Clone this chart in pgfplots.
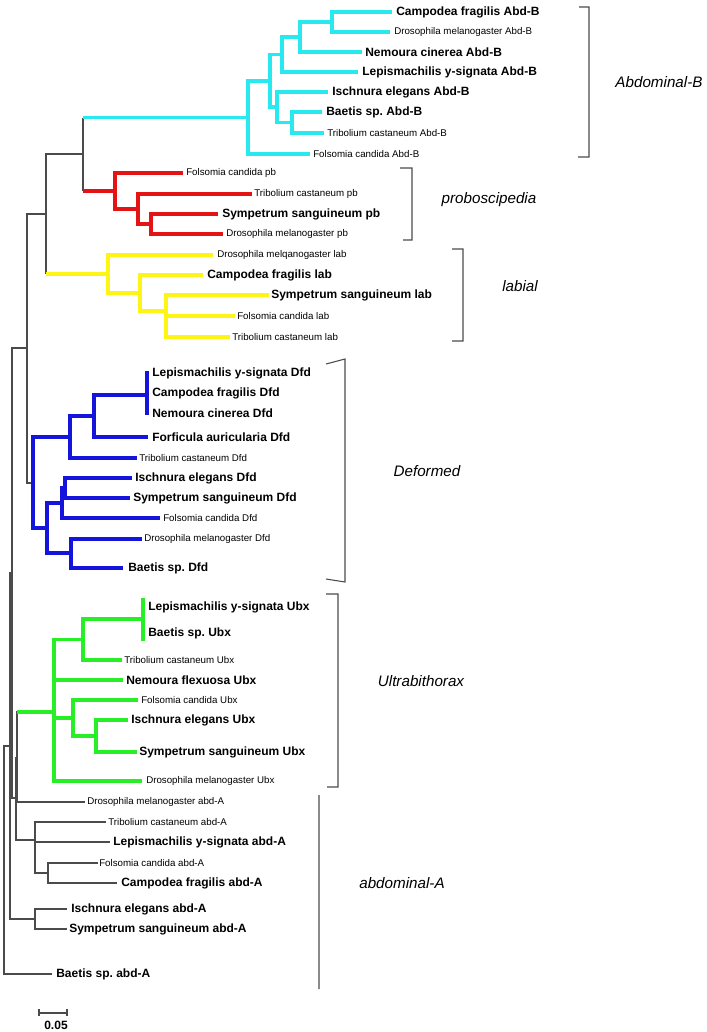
\documentclass[border=0pt]{standalone}
\usepackage{pgfplots}
\pgfplotsset{compat=1.18}
\usepackage{fontspec}
\setmainfont{Liberation Sans}
\frenchspacing
\definecolor{tcyan}{RGB}{40,232,240}
\definecolor{tred}{RGB}{228,20,20}
\definecolor{tyellow}{RGB}{255,245,20}
\definecolor{tblue}{RGB}{20,20,220}
\definecolor{tgreen}{RGB}{40,238,40}
\definecolor{tgray}{RGB}{75,75,75}
\newcommand{\B}[1]{{\fontsize{9}{9}\selectfont\bfseries #1}}
\newcommand{\R}[1]{{\fontsize{7.3}{7.3}\selectfont #1}}
\newcommand{\I}[1]{{\fontsize{11.4}{11.4}\selectfont\itshape #1}}
\begin{document}
\frenchspacing
\begin{tikzpicture}
\begin{axis}[width=530.25pt, height=774pt, scale only axis,
  xmin=0, xmax=707, ymin=0, ymax=1032, y dir=reverse,
  hide axis, clip=false, unbounded coords=jump,
  every axis plot/.append style={line join=miter}]
% ---- gray backbone and abd-A
\addplot[tgray, line width=0.9pt] coordinates {
(248,117.5)(83,117.5) (nan,nan)
(83,117.5)(83,191) (nan,nan)
(83,154)(46,154)(46,273.5) (nan,nan)
(46,214)(27,214)(27,483)(33,483) (nan,nan)
(27,348)(12,348)(12,798)(16,798) (nan,nan)
(12,573)(10,573)(10,919)(35,919) (nan,nan)
(10,746)(4,746)(4,974)(52,974) (nan,nan)
(67,909)(35,909)(35,929)(67,929) (nan,nan)
(16,757)(16,840)(35,840) (nan,nan)
(54,712)(17,712)(17,802)(85,802) (nan,nan)
(106,822)(35,822)(35,873)(48,873) (nan,nan)
(35,842)(110,842) (nan,nan)
(98,863)(48,863)(48,883)(117,883)
};
% ---- cyan Abd-B
\addplot[tcyan, line width=2.6pt] coordinates {
(392,12)(332,12)(332,32)(390,32) (nan,nan)
(332,22)(300,22)(300,52)(362,52) (nan,nan)
(300,37)(282,37)(282,72)(358,72) (nan,nan)
(322,112)(292,112)(292,133)(324,133) (nan,nan)
(328,92)(277,92)(277,122.5)(292,122.5) (nan,nan)
(282,54.5)(270,54.5)(270,107)(277,107) (nan,nan)
(270,81)(248,81)(248,154)(310,154) (nan,nan)
(248,117.5)(83,117.5)
};
% ---- red pb
\addplot[tred, line width=2.6pt] coordinates {
(218,214)(151,214)(151,234)(223,234) (nan,nan)
(252,194)(138,194)(138,224)(151,224) (nan,nan)
(183,173)(115,173)(115,209)(138,209) (nan,nan)
(115,191)(83,191)
};
% ---- yellow lab
\addplot[tyellow, line width=2.6pt] coordinates {
(269,295)(166,295)(166,337)(230,337) (nan,nan)
(166,316)(235,316) (nan,nan)
(203,275)(140,275)(140,311)(166,311) (nan,nan)
(213,255)(108,255)(108,293)(140,293) (nan,nan)
(108,274)(46,274)
};
% ---- blue Dfd
\addplot[tblue, line width=2.6pt] coordinates {
(147,371)(147,415) (nan,nan)
(147,395)(94,395)(94,437)(148,437) (nan,nan)
(94,416)(70,416)(70,458)(137,458) (nan,nan)
(132,478)(65,478)(65,498)(130,498) (nan,nan)
(65,488)(62,488)(62,518)(160,518) (nan,nan)
(142,539)(71,539)(71,568)(123,568) (nan,nan)
(62,503)(47,503)(47,553)(71,553) (nan,nan)
(70,437)(33,437)(33,528)(47,528)
};
% ---- green Ubx
\addplot[tgreen, line width=2.6pt] coordinates {
(143,598)(143,641) (nan,nan)
(143,619)(83,619)(83,660)(122,660) (nan,nan)
(128,720)(96,720)(96,752)(137,752) (nan,nan)
(138,700)(73,700)(73,736)(96,736) (nan,nan)
(83,639.5)(54,639.5)(54,781)(142,781) (nan,nan)
(54,680)(123,680) (nan,nan)
(54,718)(73,718) (nan,nan)
(54,712)(17,712)
};
% ---- brackets
\addplot[tgray, line width=0.8pt] coordinates {
(579,7)(589,7)(589,157)(578,157) (nan,nan)
(400,168)(412,168)(412,240)(403,240) (nan,nan)
(452,249)(463,249)(463,341)(452,341) (nan,nan)
(326,364)(345,359)(345,582)(326,579) (nan,nan)
(326,594)(338,594)(338,787)(327,787) (nan,nan)
(319,795)(319,989)
};
% ---- scale bar
\addplot[tgray, line width=0.9pt] coordinates {
(39,1009)(39,1016) (nan,nan)
(39,1013)(67,1013) (nan,nan)
(67,1009)(67,1016)
};
\node[anchor=center] at (axis cs:56,1025) {\B{0.05}};
% ---- tip labels
\begin{scope}[every node/.style={anchor=west, inner sep=0pt}]
\node at (axis cs:396,12) {\B{Campodea fragilis Abd-B}};
\node at (axis cs:394,32) {\R{Drosophila melanogaster Abd-B}};
\node at (axis cs:365,52) {\B{Nemoura cinerea Abd-B}};
\node at (axis cs:362,72) {\B{Lepismachilis y-signata Abd-B}};
\node at (axis cs:332,92) {\B{Ischnura elegans Abd-B}};
\node at (axis cs:326,112) {\B{Baetis sp.\ Abd-B}};
\node at (axis cs:327,133) {\R{Tribolium castaneum Abd-B}};
\node at (axis cs:313,154) {\R{Folsomia candida Abd-B}};
\node at (axis cs:186,173) {\R{Folsomia candida pb}};
\node at (axis cs:254,194) {\R{Tribolium castaneum pb}};
\node at (axis cs:222,214) {\B{Sympetrum sanguineum pb}};
\node at (axis cs:226,234) {\R{Drosophila melanogaster pb}};
\node at (axis cs:217,255) {\R{Drosophila melqanogaster lab}};
\node at (axis cs:207,275) {\B{Campodea fragilis lab}};
\node at (axis cs:271,295) {\B{Sympetrum sanguineum lab}};
\node at (axis cs:237,316) {\R{Folsomia candida lab}};
\node at (axis cs:232,337) {\R{Tribolium castaneum lab}};
\node at (axis cs:152,373) {\B{Lepismachilis y-signata Dfd}};
\node at (axis cs:152,393) {\B{Campodea fragilis Dfd}};
\node at (axis cs:152,413) {\B{Nemoura cinerea Dfd}};
\node at (axis cs:152,437) {\B{Forficula auricularia Dfd}};
\node at (axis cs:139,458) {\R{Tribolium castaneum Dfd}};
\node at (axis cs:135,478) {\B{Ischnura elegans Dfd}};
\node at (axis cs:133,498) {\B{Sympetrum sanguineum Dfd}};
\node at (axis cs:163,518) {\R{Folsomia candida Dfd}};
\node at (axis cs:144,539) {\R{Drosophila melanogaster Dfd}};
\node at (axis cs:128,568) {\B{Baetis sp.\ Dfd}};
\node at (axis cs:148,607) {\B{Lepismachilis y-signata Ubx}};
\node at (axis cs:148,633) {\B{Baetis sp.\ Ubx}};
\node at (axis cs:124,660) {\R{Tribolium castaneum Ubx}};
\node at (axis cs:126,680) {\B{Nemoura flexuosa Ubx}};
\node at (axis cs:141,700) {\R{Folsomia candida Ubx}};
\node at (axis cs:131,720) {\B{Ischnura elegans Ubx}};
\node at (axis cs:139,752) {\B{Sympetrum sanguineum Ubx}};
\node at (axis cs:146,781) {\R{Drosophila melanogaster Ubx}};
\node at (axis cs:87,802) {\R{Drosophila melanogaster abd-A}};
\node at (axis cs:108,822) {\R{Tribolium castaneum abd-A}};
\node at (axis cs:113,842) {\B{Lepismachilis y-signata abd-A}};
\node at (axis cs:99,863) {\R{Folsomia candida abd-A}};
\node at (axis cs:121,883) {\B{Campodea fragilis abd-A}};
\node at (axis cs:71,909) {\B{Ischnura elegans abd-A}};
\node at (axis cs:69,929) {\B{Sympetrum sanguineum abd-A}};
\node at (axis cs:56,974) {\B{Baetis sp.\ abd-A}};
\end{scope}
% ---- group labels
\node at (axis cs:659,82) {\I{Abdominal-B}};
\node at (axis cs:489,200) {\I{proboscipedia}};
\node at (axis cs:520,286) {\I{labial}};
\node at (axis cs:427,471) {\I{Deformed}};
\node at (axis cs:421,681) {\I{Ultrabithorax}};
\node at (axis cs:402,883) {\I{abdominal-A}};
\end{axis}
\pgfresetboundingbox
\path (current axis.south west) rectangle (current axis.north east);
\end{tikzpicture}
\end{document}
